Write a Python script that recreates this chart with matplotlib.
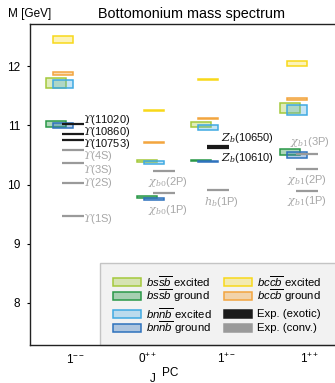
import matplotlib
matplotlib.use("Agg")
import matplotlib.pyplot as plt
from matplotlib.colors import to_rgba
from matplotlib.patches import Rectangle

plt.rcParams.update({
    "font.family": ["Liberation Sans", "DejaVu Sans"],
    "mathtext.fontset": "custom",
    "mathtext.rm": "Liberation Sans",
    "mathtext.it": "Liberation Sans:italic",
    "mathtext.bf": "Liberation Sans:bold",
    "font.size": 8.5,
})

# J^PC channels on the x axis
channels = [r"$1^{--}$", r"$0^{++}$", r"$1^{+-}$", r"$1^{++}$"]
yticks = [8, 9, 10, 11, 12]

# Predicted mass bands (lower, upper) in GeV, one per channel
bss_excited = [(11.636, 11.790), (10.387, 10.418), (10.971, 11.048), (11.214, 11.375)]
bss_ground = [(10.977, 11.077), (9.772, 9.799), (10.403, 10.413), (10.493, 10.599)]
bnn_excited = [(11.624, 11.770), (10.346, 10.390), (10.915, 11.009), (11.174, 11.347)]
bnn_ground = [(10.949, 11.038), (9.739, 9.772), (10.387, 10.397), (10.448, 10.553)]
bcc_excited = [(12.383, 12.511), (11.236, 11.257), (11.764, 11.780), (12.000, 12.089)]
bcc_ground = [(11.848, 11.904), (10.701, 10.722), (11.110, 11.118), (11.426, 11.460)]

# Measured states: channel index, mass (GeV), exotic flag, name
exp_channel = [0, 0, 0, 0, 0, 0, 0, 1, 1, 2, 2, 2, 3, 3, 3]
exp_mass = [11.020, 10.860, 10.753, 10.579, 10.355, 10.023, 9.460,
            10.233, 9.859, 10.650, 10.610, 9.899, 10.513, 10.256, 9.893]
exp_exotic = [True, True, True, False, False, False, False,
              False, False, True, True, False, False, False, False]
exp_names = [r"$\mathit{ϒ}$(11020)", r"$\mathit{ϒ}$(10860)", r"$\mathit{ϒ}$(10753)",
             r"$\mathit{ϒ}$(4S)", r"$\mathit{ϒ}$(3S)", r"$\mathit{ϒ}$(2S)", r"$\mathit{ϒ}$(1S)",
             r"$\chi_{b0}$(2P)", r"$\chi_{b0}$(1P)",
             r"$Z_b$(10650)", r"$Z_b$(10610)", r"$h_b$(1P)",
             r"$\chi_{b1}$(3P)", r"$\chi_{b1}$(2P)", r"$\chi_{b1}$(1P)"]

legend_labels = [r"$bs\overline{sb}$ excited", r"$bs\overline{sb}$ ground",
                 r"$bn\overline{nb}$ excited", r"$bn\overline{nb}$ ground",
                 r"$bc\overline{cb}$ excited", r"$bc\overline{cb}$ ground",
                 "Exp. (exotic)", "Exp. (conv.)"]

# ---- layout (pixel geometry of the canvas) ----
W, H = 335, 383
L, R, T, B = 30, 353, 24, 345
fig = plt.figure(figsize=(W / 100, H / 100), dpi=100)
ax = fig.add_axes([L / W, 1 - B / H, (R - L) / W, (B - T) / H])
ax.set_xlim(0, R - L)
ax.set_ylim(7.291, 12.709)

group_x = [32.5, 124, 178, 267]
tick_x = [46, 118, 197, 280]
BAR_W = 20
SS_SHIFT = -7
EXP_SHIFT = 10
EXP_LEN = 22

# label placement for the measured states: (x, y, ha)
label_x = [53, 53, 53, 53, 53, 53, 53, 138, 138, 191, 191, 191, 280, 277, 277]
label_y = [11.097, 10.878, 10.684, 10.473, 10.245, 10.02, 9.418,
           10.042, 9.57, 10.785, 10.447, 9.71, 10.723, 10.076, 9.72]
label_ha = ["left"] * 7 + ["center", "center", "left", "left", "center",
                           "center", "center", "center"]

C_BSS_EXC, C_BSS_GND = "#a4c93c", "#2a9848"
C_BNN_EXC, C_BNN_GND = "#3fa9e2", "#2e72bd"
C_BCC_EXC, C_BCC_GND = "#f8d81a", "#f3a53f"
C_EXOTIC, C_CONV = "#1a1a1a", "#9a9a9a"

series = [
    (bss_excited, SS_SHIFT, C_BSS_EXC, 0.35),
    (bss_ground, SS_SHIFT, C_BSS_GND, 0.38),
    (bnn_excited, 0, C_BNN_EXC, 0.30),
    (bnn_ground, 0, C_BNN_GND, 0.35),
    (bcc_excited, 0, C_BCC_EXC, 0.30),
    (bcc_ground, 0, C_BCC_GND, 0.40),
]
for bands, shift, color, alpha in series:
    lo = [b[0] for b in bands]
    hi = [b[1] for b in bands]
    ax.bar([g + shift for g in group_x], [h - l for l, h in zip(lo, hi)],
           width=BAR_W, bottom=lo, facecolor=to_rgba(color, alpha),
           edgecolor=color, linewidth=1.1, zorder=2)

for ch, m, exo, name, lx, ly, ha in zip(exp_channel, exp_mass, exp_exotic, exp_names,
                                         label_x, label_y, label_ha):
    xc = group_x[ch] + EXP_SHIFT
    col = C_EXOTIC if exo else C_CONV
    ax.hlines(m, xc - EXP_LEN / 2, xc + EXP_LEN / 2, color=col, linewidth=1.6, zorder=3)
    ax.text(lx, ly, name, ha=ha, va="center", fontsize=8,
            color=("#111111" if exo else "#a8a8a8"), math_fontfamily="dejavuserif",
            zorder=4)

# axes styling
ax.spines["right"].set_visible(False)
for s in ("top", "left", "bottom"):
    ax.spines[s].set_linewidth(1.0)
    ax.spines[s].set_color("#222222")
ax.set_yticks(yticks)
ax.set_xticks(tick_x)
ax.set_xticklabels(channels, fontsize=8.5)
ax.tick_params(axis="y", direction="out", length=2.2, width=0.8, pad=5, labelsize=8.5)
ax.tick_params(axis="x", length=0, pad=5.5)
ax.set_title("Bottomonium mass spectrum", fontsize=10.4, pad=4.1)

fig.text(8 / W, 1 - 17.5 / H, "M [GeV]", fontsize=8.5, va="baseline", ha="left")
fig.text(150 / W, 1 - 381.6 / H, "J", fontsize=8.5, va="baseline", ha="left")
fig.text(162 / W, 1 - 376.2 / H, "PC", fontsize=8.5, va="baseline", ha="left")


# legend drawn in pixel-based axes coordinates
def axpt(px, py):
    return ((px - L) / (R - L), (B - py) / (B - T))


ax.add_patch(Rectangle(axpt(100, 345), (380 - 100) / (R - L), (345 - 263) / (B - T),
                       transform=ax.transAxes, facecolor="#f2f2f2", edgecolor="#c4c4c4",
                       linewidth=1.0, zorder=1.5, clip_on=False))

legend_styles = [
    (to_rgba(C_BSS_EXC, 0.35), C_BSS_EXC), (to_rgba(C_BSS_GND, 0.38), C_BSS_GND),
    (to_rgba(C_BNN_EXC, 0.30), C_BNN_EXC), (to_rgba(C_BNN_GND, 0.35), C_BNN_GND),
    (to_rgba(C_BCC_EXC, 0.30), C_BCC_EXC), (to_rgba(C_BCC_GND, 0.40), C_BCC_GND),
    (C_EXOTIC, C_EXOTIC), (C_CONV, C_CONV),
]
col_x = [113, 224]
row_y = [282, 296, 314, 328]
for i, (label, (fc, ec)) in enumerate(zip(legend_labels, legend_styles)):
    col = 0 if i < 4 else 1
    row = i % 4
    hx, hy = col_x[col], row_y[row]
    ax.add_patch(Rectangle(axpt(hx, hy + 4), 28 / (R - L), 8 / (B - T),
                           transform=ax.transAxes, facecolor=fc, edgecolor=ec,
                           linewidth=1.1, zorder=5, clip_on=False))
    tx, ty = axpt(hx + 33, hy)
    ax.text(tx, ty, label, transform=ax.transAxes, ha="left", va="center",
            fontsize=8.2, zorder=5)

fig.savefig("out.png", dpi=100)
